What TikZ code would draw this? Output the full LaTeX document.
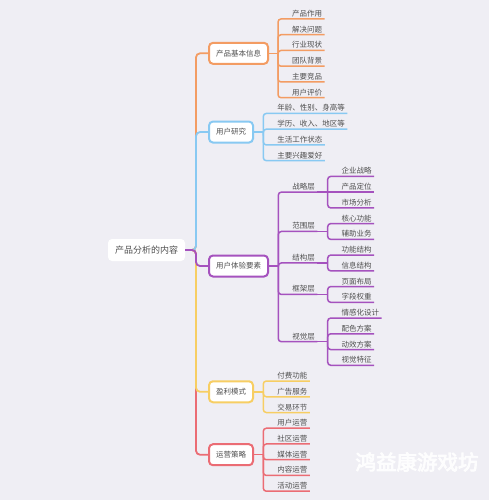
\documentclass[tikz,border=0pt]{standalone}
\usepackage{fontspec}
\setmainfont{Noto Sans CJK SC}
\newfontfamily\wmfont{Noto Sans CJK SC}[FakeBold=4]
\definecolor{bgc}{HTML}{EFEEF4}
\definecolor{txt}{HTML}{505050}
\definecolor{orC}{HTML}{F39C63}
\definecolor{blC}{HTML}{88C9F2}
\definecolor{puC}{HTML}{A552BE}
\definecolor{yeC}{HTML}{F7CE63}
\definecolor{reC}{HTML}{EB6C74}
\begin{document}
\begin{tikzpicture}[x=1pt,y=-1pt,
  rootbox/.style={fill=white, rounded corners=4pt, minimum width=77pt, minimum height=22pt, inner sep=0pt, font={\fontsize{9}{10}\selectfont}, text=txt},
  topic/.style={draw=#1, fill=white, line width=2pt, rounded corners=4pt, minimum height=21pt, inner xsep=7pt, inner ysep=0pt, font={\fontsize{7.5}{9}\selectfont}, text=txt, anchor=west},
  leaf/.style={anchor=south west, inner xsep=2.5pt, inner ysep=1pt, outer sep=0pt, text height=6pt, text depth=1.5pt, font={\fontsize{7.5}{9}\selectfont}, text=txt},
  spine/.style={draw=#1, line width=1.8pt, rounded corners=4pt},
  lnk/.style={draw=#1, line width=1.5pt, rounded corners=3pt}
]
\fill[bgc] (0,0) rectangle (489,500);
\useasboundingbox (0,0) rectangle (489,500);

% root and main topics
\node[rootbox] (root) at (146.5,250) {产品分析的内容};
\coordinate (S) at (196,250);
\node[topic=orC] (t1) at (208,53.35) {产品基本信息};
\node[topic=blC] (t2) at (208,132.05) {用户研究};
\node[topic=puC] (t3) at (208,266) {用户体验要素};
\node[topic=yeC] (t4) at (208,391.76) {盈利模式};
\node[topic=reC] (t5) at (208,454.72) {运营策略};

\draw[spine=orC] (root.east) -- (S) |- (t1.west);
\draw[spine=blC] (root.east) -- (S) |- (t2.west);
\draw[spine=reC] (root.east) -- (S) |- (t5.west);
\draw[spine=yeC] (root.east) -- (S) |- (t4.west);
\draw[spine=puC] (root.east) -- (S) |- (t3.west);

% orange group
\coordinate (v1) at (278,53.35);
\node[leaf] (a1) at (289.5,19.00) {产品作用};
\node[leaf] (a2) at (289.5,34.74) {解决问题};
\node[leaf] (a3) at (289.5,50.48) {行业现状};
\node[leaf] (a4) at (289.5,66.22) {团队背景};
\node[leaf] (a5) at (289.5,81.96) {主要竞品};
\node[leaf] (a6) at (289.5,97.70) {用户评价};
\draw[lnk=orC] (t1.east) -- (v1);
\foreach \n in {a1,a2,a3,a4,a5,a6} \draw[lnk=orC] (v1) |- (\n.south east);

% blue group
\coordinate (v2) at (263.3,132.05);
\node[leaf] (b1) at (274.8,113.44) {年龄、性别、身高等};
\node[leaf] (b2) at (274.8,129.18) {学历、收入、地区等};
\node[leaf] (b3) at (274.8,144.92) {生活工作状态};
\node[leaf] (b4) at (274.8,160.66) {主要兴趣爱好};
\draw[lnk=blC] (t2.east) -- (v2);
\foreach \n in {b1,b2,b3,b4} \draw[lnk=blC] (v2) |- (\n.south east);

% purple group
\coordinate (v3) at (278.3,266);
\node[leaf] (p1) at (289.8,192.14) {战略层};
\node[leaf] (p2) at (289.8,231.49) {范围层};
\node[leaf] (p3) at (289.8,262.97) {结构层};
\node[leaf] (p4) at (289.8,294.45) {框架层};
\node[leaf] (p5) at (289.8,341.67) {视觉层};
\draw[lnk=puC] (t3.east) -- (v3);
\foreach \n in {p1,p2,p3,p4,p5} \draw[lnk=puC] (v3) |- (\n.south east);

\coordinate (w1) at (327.7,192.14);
\coordinate (w2) at (327.7,231.49);
\coordinate (w3) at (327.7,262.97);
\coordinate (w4) at (327.7,294.45);
\coordinate (w5) at (327.7,341.67);
\draw[lnk=puC] (p1.south east) -- (w1);
\draw[lnk=puC] (p2.south east) -- (w2);
\draw[lnk=puC] (p3.south east) -- (w3);
\draw[lnk=puC] (p4.south east) -- (w4);
\draw[lnk=puC] (p5.south east) -- (w5);

\node[leaf] (q1) at (339.2,176.40) {企业战略};
\node[leaf] (q2) at (339.2,192.14) {产品定位};
\node[leaf] (q3) at (339.2,207.88) {市场分析};
\node[leaf] (q4) at (339.2,223.62) {核心功能};
\node[leaf] (q5) at (339.2,239.36) {辅助业务};
\node[leaf] (q6) at (339.2,255.10) {功能结构};
\node[leaf] (q7) at (339.2,270.84) {信息结构};
\node[leaf] (q8) at (339.2,286.58) {页面布局};
\node[leaf] (q9) at (339.2,302.32) {字段权重};
\node[leaf] (q10) at (339.2,318.06) {情感化设计};
\node[leaf] (q11) at (339.2,333.80) {配色方案};
\node[leaf] (q12) at (339.2,349.54) {动效方案};
\node[leaf] (q13) at (339.2,365.28) {视觉特征};
\draw[lnk=puC] (w1) |- (q1.south east);
\draw[lnk=puC] (w1) -- (q2.south east);
\draw[lnk=puC] (w1) |- (q3.south east);
\draw[lnk=puC] (w2) |- (q4.south east);
\draw[lnk=puC] (w2) |- (q5.south east);
\draw[lnk=puC] (w3) |- (q6.south east);
\draw[lnk=puC] (w3) |- (q7.south east);
\draw[lnk=puC] (w4) |- (q8.south east);
\draw[lnk=puC] (w4) |- (q9.south east);
\foreach \n in {q10,q11,q12,q13} \draw[lnk=puC] (w5) |- (\n.south east);

% yellow group
\coordinate (v4) at (263.3,391.76);
\node[leaf] (y1) at (274.8,381.02) {付费功能};
\node[leaf] (y2) at (274.8,396.76) {广告服务};
\node[leaf] (y3) at (274.8,412.50) {交易环节};
\draw[lnk=yeC] (t4.east) -- (v4);
\foreach \n in {y1,y2,y3} \draw[lnk=yeC] (v4) |- (\n.south east);

% red group
\coordinate (v5) at (263.3,454.72);
\node[leaf] (r1) at (274.8,428.24) {用户运营};
\node[leaf] (r2) at (274.8,443.98) {社区运营};
\node[leaf] (r3) at (274.8,459.72) {媒体运营};
\node[leaf] (r4) at (274.8,475.46) {内容运营};
\node[leaf] (r5) at (274.8,491.20) {活动运营};
\draw[lnk=reC] (t5.east) -- (v5);
\foreach \n in {r1,r2,r3,r4,r5} \draw[lnk=reC] (v5) |- (\n.south east);

% watermark
\node[text=white, opacity=0.85, font={\wmfont\fontsize{20.5}{22}\selectfont}] (wm) at (417,462) {鸿益康游戏坊};
\end{tikzpicture}
\end{document}
